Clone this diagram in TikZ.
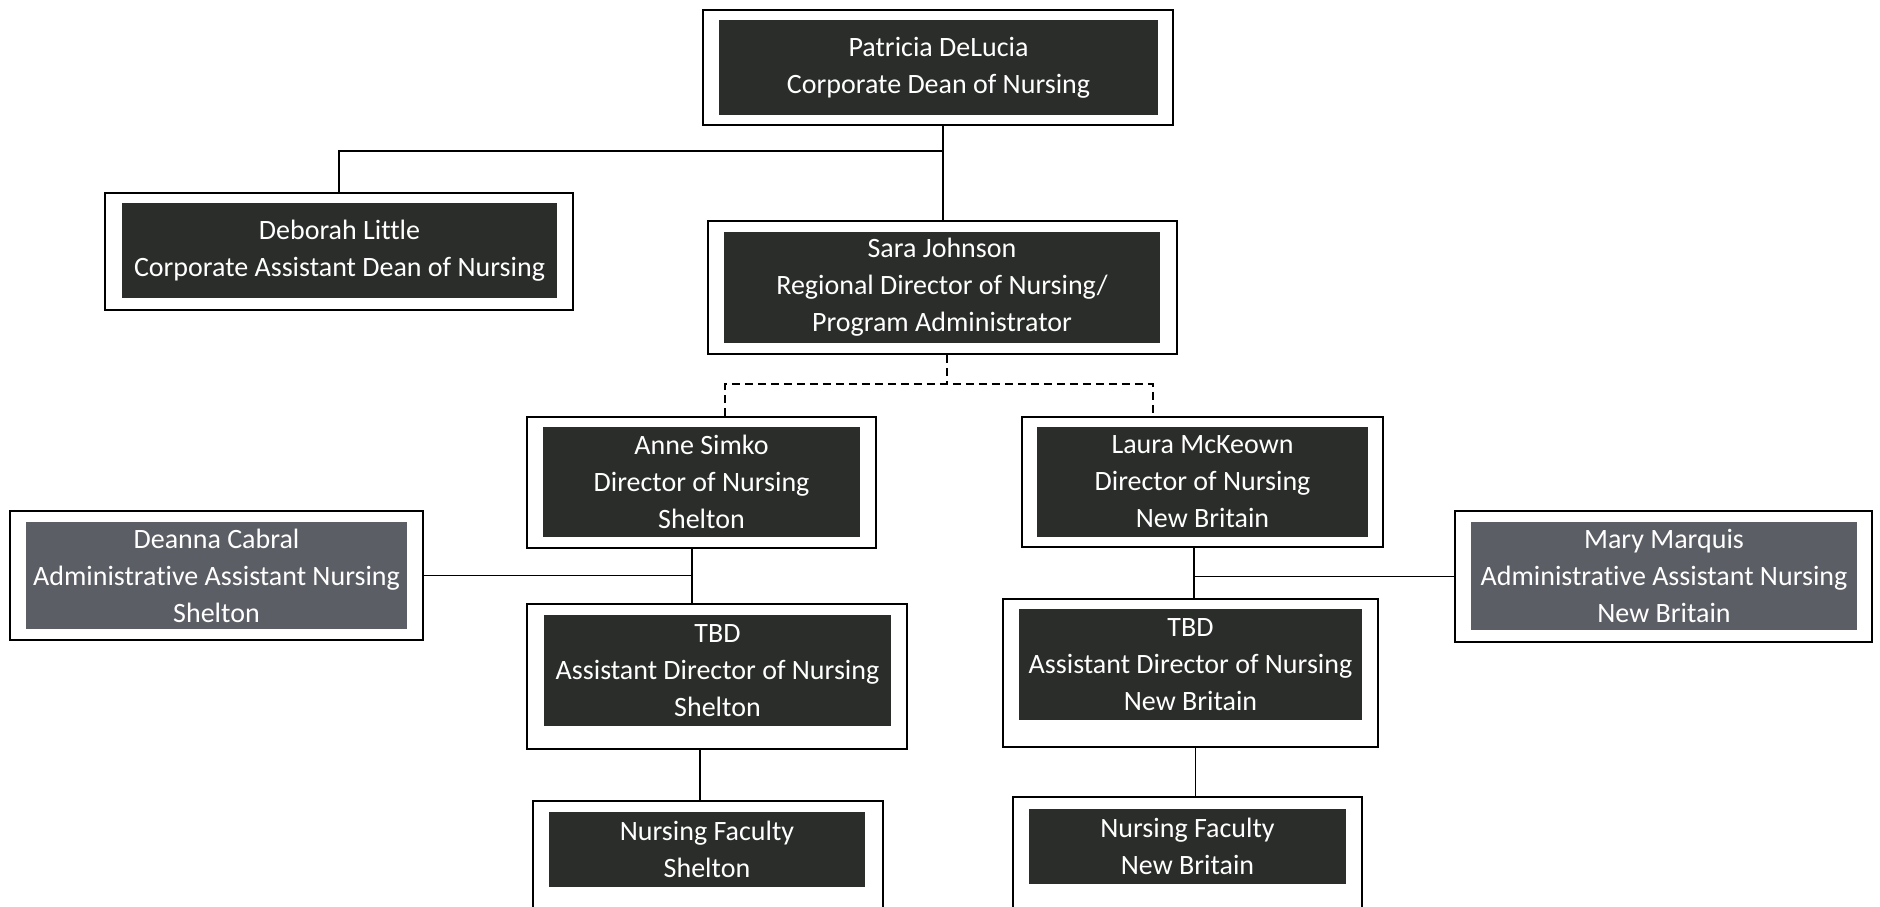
\documentclass[tikz,border=0pt]{standalone}
\usepackage{fontspec}
\setmainfont{Carlito}[Ligatures=NoCommon]
\definecolor{boxdark}{RGB}{42,45,42}
\definecolor{boxgray}{RGB}{92,94,101}
\begin{document}
\begin{tikzpicture}[x=1pt,y=-1pt,
    frame/.style={draw=black, line width=1.6pt, fill=white, inner sep=0pt},
    unit/.style={fill=boxdark, text=white, inner sep=0pt, align=center,
      font=\fontsize{28}{37}\selectfont},
    admin/.style={unit, fill=boxgray},
    link/.style={line width=1.7pt},
    dashlink/.style={line width=1.5pt, dash pattern=on 8pt off 5pt}]

    % page
    \useasboundingbox[fill=white] (0,0) rectangle (1880,907);
    \clip (0,0) rectangle (1880,907);

    % Outer frames
    \node[frame, minimum width=470, minimum height=115] (patF) at (938,67.5) {};
    \node[frame, minimum width=468, minimum height=117] (debF) at (339,251.5) {};
    \node[frame, minimum width=469, minimum height=133] (saraF) at (942.5,287.5) {};
    \node[frame, minimum width=349, minimum height=131] (anneF) at (701.5,482.5) {};
    \node[frame, minimum width=361, minimum height=130] (lauraF) at (1202.5,482) {};
    \node[frame, minimum width=413, minimum height=129] (deanF) at (216.5,575.5) {};
    \node[frame, minimum width=417, minimum height=131] (maryF) at (1663.5,576.5) {};
    \node[frame, minimum width=380, minimum height=145] (tbdsF) at (717,676.5) {};
    \node[frame, minimum width=375, minimum height=148] (tbdnF) at (1190.5,673) {};
    \node[frame, minimum width=350, minimum height=260] (facsF) at (708,931) {};
    \node[frame, minimum width=349, minimum height=260] (facnF) at (1187.5,927) {};

    % Units
    \node[unit, minimum width=439, minimum height=95] (pat) at (938.5,67.5)
        {Patricia DeLucia\\Corporate Dean of Nursing};
    \node[unit, minimum width=435, minimum height=95] (deb) at (339.5,250.5)
        {Deborah Little\\Corporate Assistant Dean of Nursing};
    \node[unit, minimum width=436, minimum height=111] (sara) at (942,287.5)
        {Sara Johnson\\Regional Director of Nursing/\\Program Administrator};
    \node[unit, minimum width=317, minimum height=110] (anne) at (701.5,482)
        {Anne Simko\\Director of Nursing\\Shelton};
    \node[unit, minimum width=331, minimum height=110] (laura) at (1202.5,482)
        {Laura McKeown\\Director of Nursing\\New Britain};
    \node[admin, minimum width=381, minimum height=107] (dean) at (216.5,575.5)
        {Deanna Cabral\\Administrative Assistant Nursing\\Shelton};
    \node[admin, minimum width=386, minimum height=108] (mary) at (1664,576)
        {Mary Marquis\\Administrative Assistant Nursing\\New Britain};
    \node[unit, minimum width=347, minimum height=111] (tbds) at (717.5,670.5)
        {TBD\\Assistant Director of Nursing\\Shelton};
    \node[unit, minimum width=343, minimum height=111] (tbdn) at (1190.5,664.5)
        {TBD\\Assistant Director of Nursing\\New Britain};
    \node[unit, minimum width=316, minimum height=75] (facs) at (707,849.5)
        {Nursing Faculty\\Shelton};
    \node[unit, minimum width=317, minimum height=75] (facn) at (1187.5,846.5)
        {Nursing Faculty\\New Britain};

    % Joins
    \coordinate (topJoin) at (943,151);
    \coordinate (dashJoin) at (947,384);
    \coordinate (sJoin) at (692,577);
    \coordinate (nJoin) at (1194,574);

    % Solid lines
    \draw[link] ([xshift=0.5]saraF.north) -- ([xshift=0.5]saraF.north |- patF.south);
    \draw[link] (debF.north) |- (topJoin);
    \draw[link] (anneF.south -| sJoin) -- (tbdsF.north -| sJoin);
    \draw[link] (deanF.east) -- (deanF.east -| sJoin);
    \draw[link] ([xshift=-8]facsF.north) -- ([xshift=-8]facsF.north |- tbdsF.south);
    \draw[link] (lauraF.south -| nJoin) -- (tbdnF.north -| nJoin);
    \draw[link] (maryF.west) -- (maryF.west -| nJoin);
    \draw[link] ([xshift=8]facnF.north) -- ([xshift=8]facnF.north |- tbdnF.south);

    % Dashed lines
    \draw[dashlink] (saraF.south -| dashJoin) -- (dashJoin);
    \draw[dashlink] ([xshift=23.5]anneF.north) |- (dashJoin)
        -| ([xshift=-49.5]lauraF.north);
\end{tikzpicture}
\end{document}
